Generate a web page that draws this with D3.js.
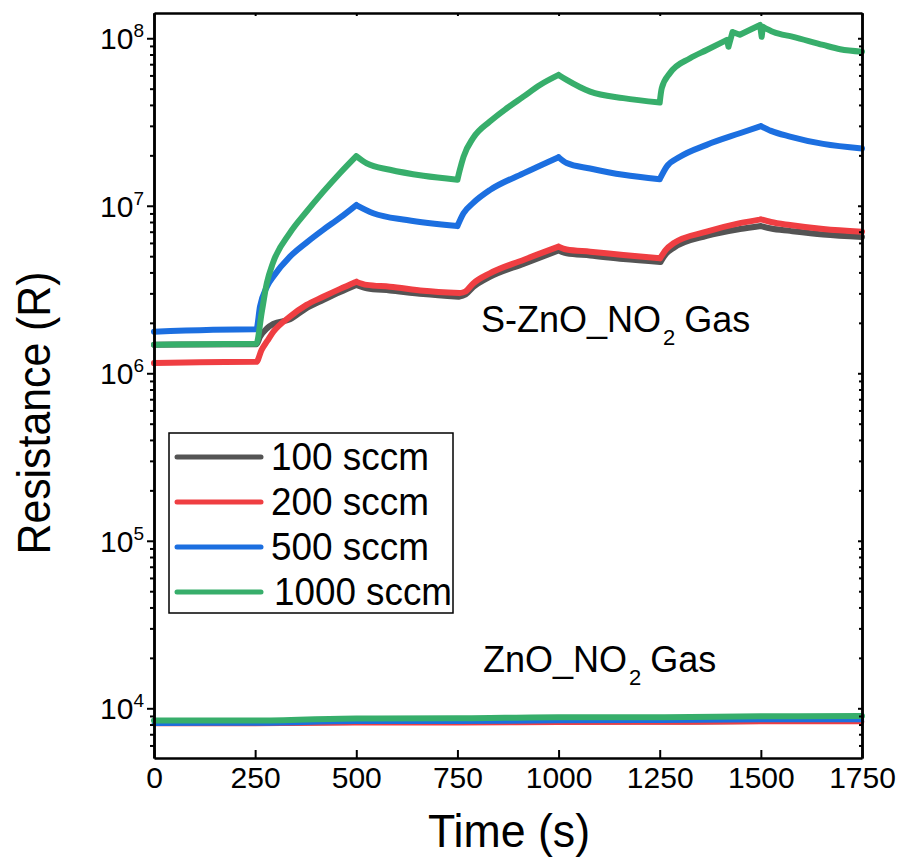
<!DOCTYPE html>
<html>
<head>
<meta charset="utf-8">
<script src="https://cdn.jsdelivr.net/npm/d3@7"></script>
<style>
body{margin:0;background:#fff;}
svg text{font-family:"Liberation Sans",Arial,Helvetica,sans-serif;fill:#000;}
</style>
</head>
<body>
<div id="chart"></div>
<script>
// legend entries (gas flow)
const flowLabels = ['100 sccm', '200 sccm', '500 sccm', '1000 sccm'];
const flowColors = ['#545454', '#ef3e42', '#1c6fe0', '#37ae6b'];

// S-ZnO response, [time (s), resistance]
const sZnO100 = [[0,1.48e6],[250,1.49e6],[253,1.49e6],[262,1.65e6],[279,1.85e6],[295,1.97e6],[336,2.10e6],[377,2.45e6],[418,2.74e6],[460,3.06e6],[500,3.37e6],[526,3.22e6],[583,3.12e6],[666,2.97e6],[753,2.86e6],[770,2.95e6],[789,3.27e6],[830,3.76e6],[913,4.50e6],[1000,5.41e6],[1020,5.20e6],[1078,5.05e6],[1160,4.81e6],[1252,4.62e6],[1265,5.15e6],[1284,5.60e6],[1366,6.61e6],[1448,7.26e6],[1500,7.57e6],[1525,7.31e6],[1572,7.08e6],[1654,6.74e6],[1750,6.52e6]];
const sZnO200 = [[0,1.15e6],[250,1.17e6],[253,1.17e6],[266,1.38e6],[280,1.56e6],[295,1.77e6],[336,2.18e6],[377,2.56e6],[418,2.86e6],[460,3.19e6],[500,3.52e6],[526,3.37e6],[583,3.29e6],[666,3.11e6],[755,3.01e6],[769,3.07e6],[789,3.44e6],[830,3.95e6],[913,4.75e6],[1000,5.70e6],[1020,5.48e6],[1078,5.32e6],[1160,5.08e6],[1251,4.86e6],[1265,5.45e6],[1284,5.97e6],[1366,7.00e6],[1448,7.87e6],[1500,8.30e6],[1525,8.00e6],[1572,7.67e6],[1654,7.26e6],[1750,7.00e6]];
const sZnO500 = [[0,1.77e6],[250,1.83e6],[253,1.83e6],[262,2.50e6],[279,3.29e6],[295,3.78e6],[336,4.97e6],[377,6.03e6],[418,7.18e6],[460,8.49e6],[500,1.01e7],[542,9.02e6],[625,8.22e6],[750,7.57e6],[765,9.02e6],[789,1.04e7],[830,1.24e7],[913,1.56e7],[1000,1.95e7],[1020,1.80e7],[1078,1.67e7],[1160,1.53e7],[1250,1.44e7],[1267,1.71e7],[1300,1.96e7],[1366,2.31e7],[1448,2.71e7],[1500,2.99e7],[1525,2.80e7],[1572,2.59e7],[1654,2.34e7],[1750,2.20e7]];
const sZnO1000 = [[0,1.48e6],[250,1.50e6],[253,1.50e6],[266,2.29e6],[279,3.46e6],[294,4.56e6],[336,6.89e6],[377,9.22e6],[418,1.21e7],[460,1.57e7],[500,1.98e7],[526,1.79e7],[583,1.64e7],[666,1.51e7],[750,1.43e7],[756,1.64e7],[765,1.96e7],[789,2.54e7],[830,3.18e7],[872,3.82e7],[913,4.48e7],[954,5.26e7],[1000,6.04e7],[1020,5.64e7],[1078,4.80e7],[1160,4.39e7],[1250,4.13e7],[1255,5.03e7],[1275,6.18e7],[1325,7.60e7],[1366,8.51e7],[1416,9.77e7],[1420,8.91e7],[1430,1.09e8],[1448,1.05e8],[1498,1.20e8],[1502,1.02e8],[1505,1.17e8],[1531,1.09e8],[1580,1.02e8],[1654,9.12e7],[1696,8.60e7],[1750,8.32e7]];

// bare ZnO response
const zno100 = [[0,8.10e3],[250,8.10e3],[500,8.20e3],[750,8.20e3],[1000,8.25e3],[1250,8.25e3],[1500,8.30e3],[1750,8.30e3]];
const zno200 = [[0,8.05e3],[250,8.05e3],[500,8.15e3],[750,8.15e3],[1000,8.20e3],[1250,8.22e3],[1500,8.28e3],[1750,8.28e3]];
const zno500 = [[0,8.10e3],[250,8.12e3],[500,8.30e3],[750,8.30e3],[1000,8.40e3],[1250,8.42e3],[1500,8.50e3],[1750,8.50e3]];
const zno1000 = [[0,8.45e3],[250,8.45e3],[500,8.70e3],[750,8.72e3],[1000,8.85e3],[1250,8.85e3],[1500,8.95e3],[1750,9.00e3]];

const xTicks = [0, 250, 500, 750, 1000, 1250, 1500, 1750];
const yTicks = [1e4, 1e5, 1e6, 1e7, 1e8];

const width = 902, height = 862;
const plotL = 154, plotR = 862, plotT = 13, plotB = 758;

const svg = d3.select('#chart').append('svg')
    .attr('width', width)
    .attr('height', height);

const x = d3.scaleLinear([0, 1750], [plotL, plotR]);
const y = d3.scaleLog([5.05e3, 1.415e8], [plotB, plotT]);
const minorY = y.ticks().filter(v => !yTicks.includes(v));

const line = d3.line().x(d => x(d[0])).y(d => y(d[1])).curve(d3.curveMonotoneX);

// split a series where it turns (gas on / gas off), so the cusps stay sharp
function pieces(s){
    const out = [];
    let cur = [s[0]];
    for (let i = 1; i < s.length; i++){
        cur.push(s[i]);
        if (i < s.length - 1){
            const a = s[i][1] - s[i-1][1], b = s[i+1][1] - s[i][1];
            if (a * b < 0){ out.push(cur); cur = [s[i]]; }
        }
    }
    out.push(cur);
    return out;
}
const pathOf = s => pieces(s).map(p => line(p)).join('');

// data lines, S-ZnO and ZnO per flow
const sZnO = [sZnO100, sZnO200, sZnO500, sZnO1000];
const zno = [zno100, zno200, zno500, zno1000];
const curves = svg.append('g');
zno.forEach((s, i) => {
    curves.append('path')
        .attr('d', pathOf(s)).attr('fill', 'none')
        .attr('stroke', flowColors[i]).attr('stroke-width', i == 3 ? 6 : 4.5)
        .attr('stroke-linejoin', 'round').attr('stroke-linecap', 'round');
});
sZnO.forEach((s, i) => {
    curves.append('path')
        .attr('d', pathOf(s)).attr('fill', 'none')
        .attr('stroke', flowColors[i]).attr('stroke-width', 6)
        .attr('stroke-linejoin', 'round').attr('stroke-linecap', 'round');
});

// axes
function styleAxis(g){
    g.select('.domain').attr('stroke', '#000').attr('stroke-width', 2.5);
    g.selectAll('.tick line').attr('stroke', '#000').attr('stroke-width', 2);
}

svg.append('g').attr('transform', `translate(0,${plotB})`)
    .call(d3.axisBottom(x).tickValues(xTicks).tickFormat(d3.format('d'))
        .tickSizeInner(-8).tickSizeOuter(0).tickPadding(9))
    .call(styleAxis)
    .call(g => g.selectAll('.tick text').attr('font-size', 30).attr('fill', '#000'));

svg.append('g').attr('transform', `translate(0,${plotT})`)
    .call(d3.axisTop(x).tickValues(xTicks).tickSizeInner(-3).tickSizeOuter(0).tickFormat(''))
    .call(styleAxis);

svg.append('g').attr('transform', `translate(${plotL},0)`)
    .call(d3.axisLeft(y).tickValues(yTicks).tickSizeInner(7).tickSizeOuter(0).tickFormat(''))
    .call(styleAxis);
svg.append('g').attr('transform', `translate(${plotL},0)`)
    .call(d3.axisLeft(y).tickValues(minorY).tickSizeInner(4).tickSizeOuter(0).tickFormat(''))
    .call(styleAxis);

svg.append('g').attr('transform', `translate(${plotR},0)`)
    .call(d3.axisRight(y).tickValues(yTicks).tickSizeInner(-4).tickSizeOuter(0).tickFormat(''))
    .call(styleAxis);
svg.append('g').attr('transform', `translate(${plotR},0)`)
    .call(d3.axisRight(y).tickValues(minorY).tickSizeInner(-3).tickSizeOuter(0).tickFormat(''))
    .call(styleAxis);

// y tick labels as 10^n
const yLab = svg.append('g').selectAll('text').data(yTicks).join('text')
    .attr('x', 144).attr('y', d => y(d) + 11)
    .attr('text-anchor', 'end').attr('font-size', 30);
yLab.append('tspan').text('10');
yLab.append('tspan').attr('font-size', 19).attr('dy', -12).text(d => Math.round(Math.log10(d)));

// axis titles
svg.append('text')
    .attr('x', 509).attr('y', 847)
    .attr('text-anchor', 'middle').attr('font-size', 46)
    .attr('textLength', 162).attr('lengthAdjust', 'spacingAndGlyphs')
    .text('Time (s)');

svg.append('text')
    .attr('transform', `translate(50,413)rotate(-90)`)
    .attr('text-anchor', 'middle').attr('font-size', 47)
    .attr('textLength', 283).attr('lengthAdjust', 'spacingAndGlyphs')
    .text('Resistance (R)');

// annotations
function gasLabel(px, py, prefix){
    const t = svg.append('text').attr('x', px).attr('y', py).attr('font-size', 36);
    t.append('tspan').text(prefix + '_NO');
    t.append('tspan').attr('font-size', 22).attr('dy', 13).attr('dx', 2).text('2');
    t.append('tspan').attr('dy', -13).attr('dx', 9).text('Gas');
}
gasLabel(481, 332, 'S-ZnO');
gasLabel(483, 672, 'ZnO');

// legend
const legend = svg.append('g');
legend.append('rect')
    .attr('x', 169).attr('y', 433).attr('width', 284).attr('height', 180)
    .attr('fill', '#fff').attr('stroke', '#000').attr('stroke-width', 1.5);
const rows = legend.selectAll('g.row').data(flowLabels).join('g')
    .attr('transform', (d, i) => `translate(0,${457 + i * 45})`);
rows.append('line')
    .attr('x1', 177).attr('x2', 261)
    .attr('stroke', (d, i) => flowColors[i]).attr('stroke-width', 5)
    .attr('stroke-linecap', 'round');
rows.append('text')
    .attr('x', (d, i) => i == 3 ? 274 : 271).attr('y', 13)
    .attr('font-size', 38)
    .attr('textLength', (d, i) => i == 3 ? 178 : 158).attr('lengthAdjust', 'spacingAndGlyphs')
    .text(d => d);
</script>
</body>
</html>
